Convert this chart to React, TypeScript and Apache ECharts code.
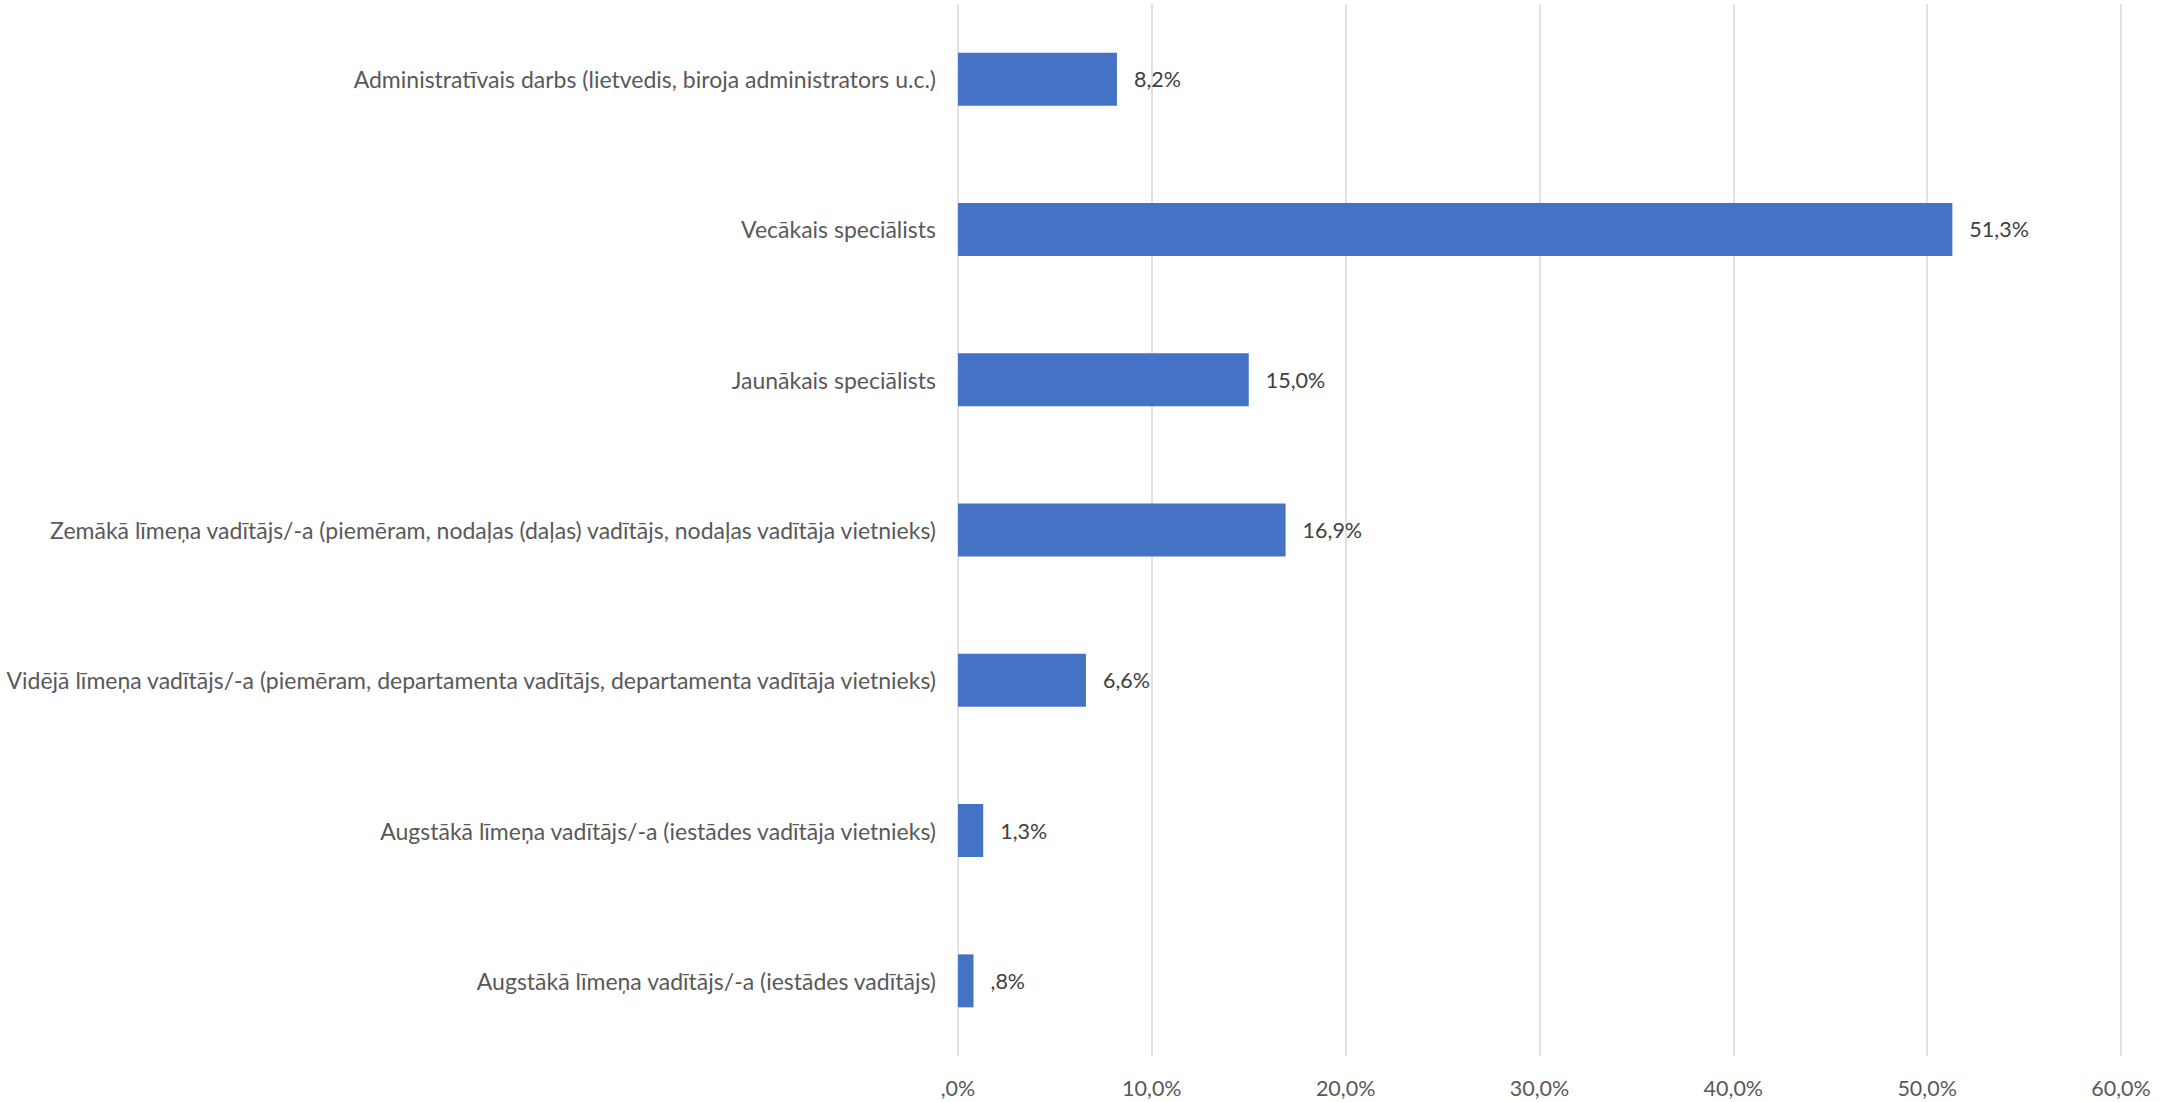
import React, { useEffect, useRef } from "react";
import * as echarts from "echarts";

const categories = [
  "Administratīvais darbs (lietvedis, biroja administrators u.c.)",
  "Vecākais speciālists",
  "Jaunākais speciālists",
  "Zemākā līmeņa vadītājs/-a (piemēram, nodaļas (daļas) vadītājs, nodaļas vadītāja vietnieks)",
  "Vidējā līmeņa vadītājs/-a (piemēram, departamenta vadītājs, departamenta vadītāja vietnieks)",
  "Augstākā līmeņa vadītājs/-a (iestādes vadītāja vietnieks)",
  "Augstākā līmeņa vadītājs/-a (iestādes vadītājs)",
];
const values = [8.2, 51.3, 15.0, 16.9, 6.6, 1.3, 0.8];
const axisMin = 0;
const axisMax = 60;
const axisStep = 10;

const fmt = (v: number) => {
  let s = v.toFixed(1).replace(".", ",");
  if (s.startsWith("0,")) s = s.slice(1);
  return s + "%";
};

export default function App() {
  const ref = useRef<HTMLDivElement>(null);
  useEffect(() => {
    document.body.style.margin = "0";
    const chart = echarts.init(ref.current!, null, { renderer: "svg" });
    const font = "Lato";
    chart.setOption({
      animation: false,
      backgroundColor: "#ffffff",
      grid: { left: 958, right: 59, top: 4, bottom: 46, containLabel: false },
      xAxis: {
        type: "value",
        min: axisMin,
        max: axisMax,
        interval: axisStep,
        axisLine: { show: false },
        axisTick: { show: false },
        splitLine: { show: true, lineStyle: { color: "#d9d9d9", width: 1.5 } },
        axisLabel: {
          formatter: (v: number) => fmt(v),
          color: "#595959",
          fontFamily: font,
          fontSize: 21.5,
          lineHeight: 22,
          margin: 21,
        },
      },
      yAxis: {
        type: "category",
        data: categories,
        inverse: true,
        axisLine: { show: false },
        axisTick: { show: false },
        splitLine: { show: false },
        axisLabel: {
          color: "#595959",
          fontFamily: font,
          fontSize: 23,
          margin: 22,
        },
      },
      series: [
        {
          type: "bar",
          data: values,
          barWidth: 53,
          itemStyle: { color: "#4472C4" },
          label: {
            show: true,
            position: "right",
            distance: 17,
            formatter: (p: any) => fmt(p.value),
            color: "#404040",
            fontFamily: font,
            fontSize: 21.5,
          },
        },
      ],
    });
    return () => chart.dispose();
  }, []);
  return <div ref={ref} style={{ width: 2180, height: 1102 }} />;
}
